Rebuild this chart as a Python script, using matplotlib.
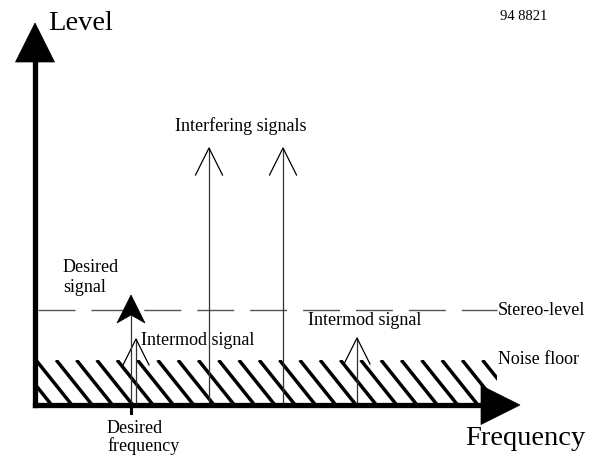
import matplotlib
matplotlib.use("Agg")
import matplotlib.pyplot as plt
import numpy as np
from matplotlib.patches import Polygon, Rectangle

plt.rcParams["font.family"] = ["Liberation Serif", "DejaVu Serif"]

# schematic values, origin at the axis corner (1 unit ~ 1 px)
freq_axis_end = 485
level_axis_end = 382
noise_floor = 45
noise_floor_end = 462
stereo_level = 95

desired_freq = 96
desired_level = 110
interfering_freqs = [174, 248]
interfering_levels = [257, 257]
intermod_freqs = [101, 322]
intermod_levels = [66, 67]

# text: (x, baseline y, string, size)
labels = [
    (13, 375, "Level", 20.5),
    (430, -40, "Frequency", 20.5),
    (465, 385, "94 8821", 10.5),
    (140, 274, "Interfering signals", 13),
    (106, 60, "Intermod signal", 13),
    (273, 80, "Intermod signal", 13),
    (463, 90, "Stereo-level", 13),
    (463, 41, "Noise floor", 13),
    (28, 133, "Desired", 13),
    (28, 113, "signal", 13),
    (72, -28, "Desired", 13),
    (72, -46, "frequency", 13),
]

fig = plt.figure(figsize=(5.98, 4.55), dpi=100)
ax = fig.add_axes([0, 0, 1, 1])
ax.set_xlim(-35, 563)
ax.set_ylim(-50, 405)
ax.axis("off")

# noise floor band with steep diagonal stripes
band = Rectangle((0, 0), noise_floor_end, noise_floor, facecolor="none", edgecolor="none")
ax.add_patch(band)
slope = 0.8
for x0 in np.arange(-60, noise_floor_end + 20, 20.3):
    ln, = ax.plot([x0, x0 + slope * noise_floor], [noise_floor, 0], color="black",
                  lw=2.5, solid_capstyle="butt", zorder=1)
    ln.set_clip_path(band)

# stereo level (dash 37 px, gap 16 px)
ax.plot([3, 462], [stereo_level, stereo_level], color="#555555", lw=1.0,
        linestyle=(0, (26.6, 11.5)), zorder=2)

# interfering signals: open arrowheads
for f, lv in zip(interfering_freqs, interfering_levels):
    ax.plot([f, f], [0, lv], color="#333333", lw=0.9, zorder=2)
    ax.plot([f - 13.5, f, f + 13.5], [lv - 27, lv, lv - 27], color="black", lw=0.9, zorder=2)

# intermod signals
for f, lv in zip(intermod_freqs, intermod_levels):
    ax.plot([f, f], [0, lv], color="#333333", lw=0.9, zorder=2)
    ax.plot([f - 13, f, f + 13], [lv - 26, lv, lv - 26], color="black", lw=0.9, zorder=2)

# desired signal with filled notched head
ax.plot([desired_freq, desired_freq], [0, desired_level - 10], color="#333333", lw=0.9, zorder=2)
ax.add_patch(Polygon([(desired_freq, desired_level), (desired_freq + 14, desired_level - 28),
                      (desired_freq, desired_level - 20), (desired_freq - 14, desired_level - 28)],
                     closed=True, facecolor="black", edgecolor="black", lw=0.5, zorder=3))
ax.plot([desired_freq, desired_freq], [0, -8], color="black", lw=2.2, zorder=3)

# axes with big arrowheads
ax.plot([0, 0], [0, level_axis_end - 39], color="black", lw=3.8, solid_capstyle="projecting", zorder=4)
ax.plot([0, freq_axis_end - 39], [0, 0], color="black", lw=3.8, solid_capstyle="projecting", zorder=4)
ax.add_patch(Polygon([(0, level_axis_end), (-19.5, level_axis_end - 39), (19.5, level_axis_end - 39)],
                     closed=True, facecolor="black", edgecolor="black", lw=0.5, zorder=4))
ax.add_patch(Polygon([(freq_axis_end, 0), (freq_axis_end - 39, 19.5), (freq_axis_end - 39, -19.5)],
                     closed=True, facecolor="black", edgecolor="black", lw=0.5, zorder=4))

for x, y, s, size in labels:
    ax.text(x, y, s, fontsize=size, ha="left", va="baseline", color="black", zorder=5)

fig.savefig("out.png", dpi=100)
